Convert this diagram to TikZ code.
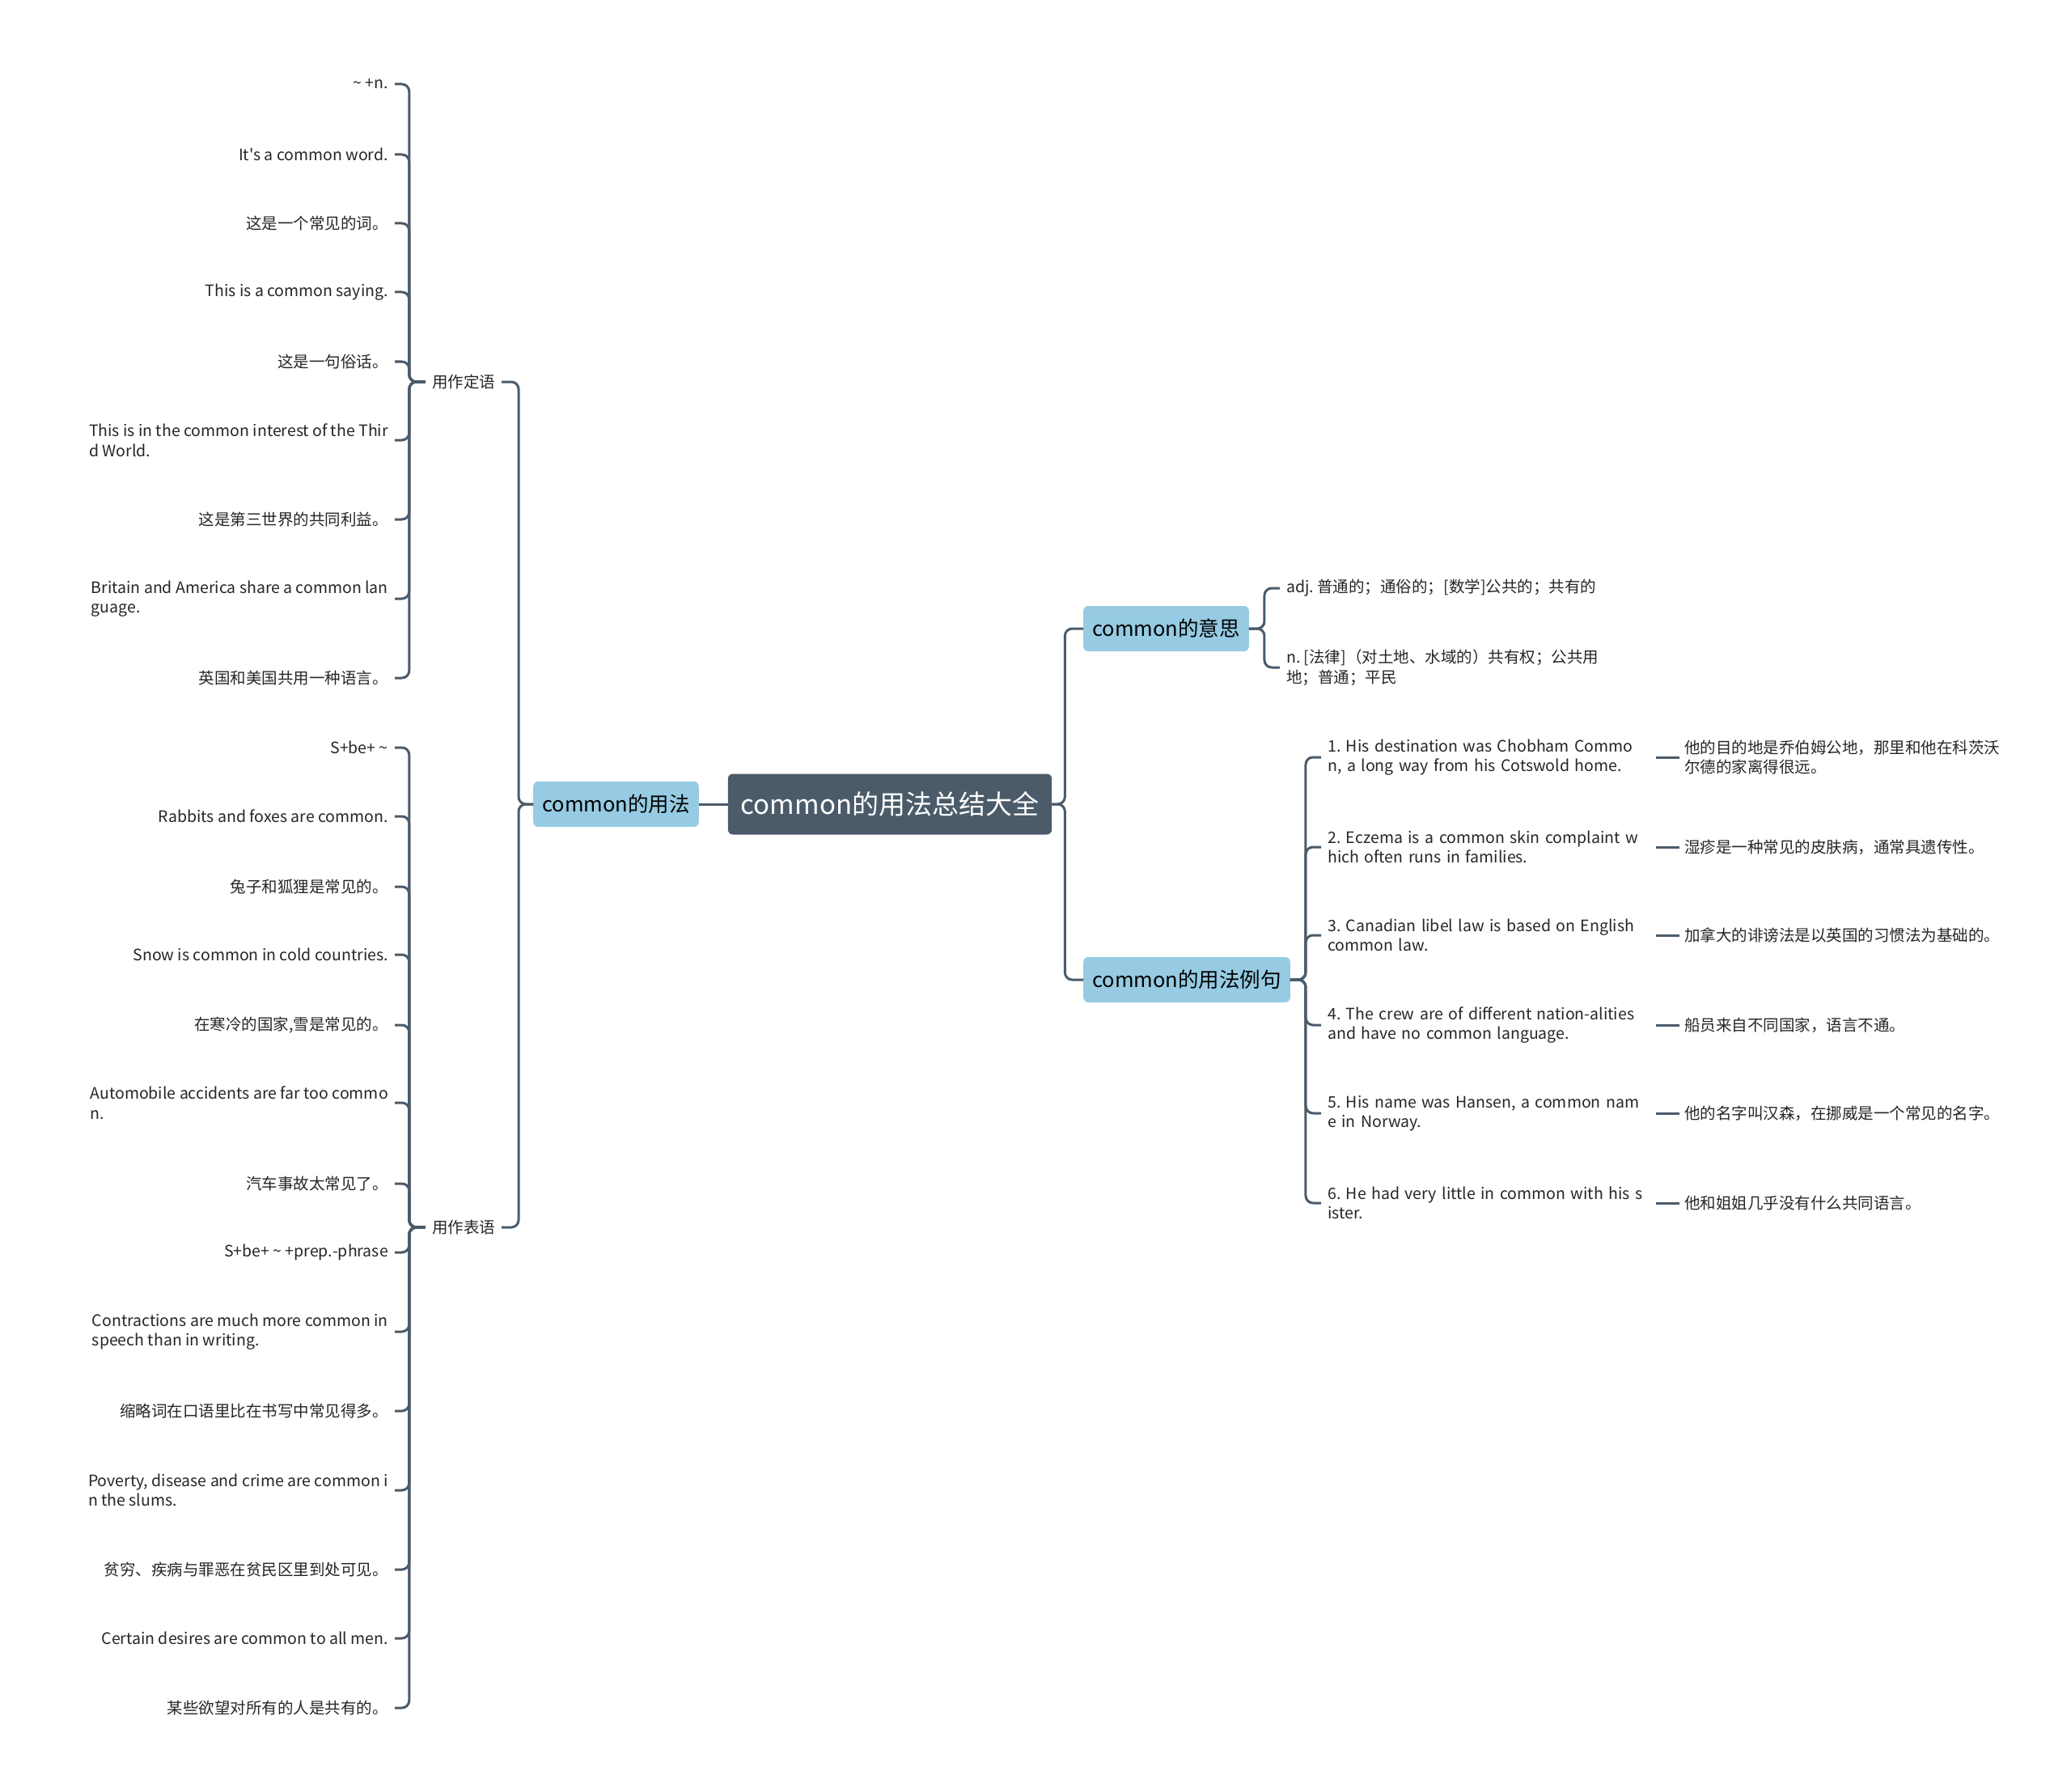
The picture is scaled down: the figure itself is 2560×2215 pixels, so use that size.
\documentclass[tikz,border=0pt]{standalone}
\usepackage{fontspec}
\setmainfont{Noto Sans CJK SC}[Ligatures=TeXOff]
\definecolor{slate}{HTML}{4B5B6A}
\definecolor{skyblue}{HTML}{96CBE3}
\definecolor{inkgray}{HTML}{262626}
\frenchspacing

\begin{document}
\begin{tikzpicture}[x=1pt,y=-1pt,
	root/.style={fill=slate, text=white, rounded corners=6pt, minimum height=75pt, inner xsep=16pt, font=\fontsize{33}{40}\selectfont},
	topic/.style={fill=skyblue, text=black, rounded corners=6pt, minimum height=56pt, inner xsep=11pt, font=\fontsize{25.5}{30}\selectfont},
	sub/.style={text=inkgray, inner xsep=8pt, inner ysep=3pt, font=\fontsize{19.5}{24.5}\selectfont},
	leafl/.style={sub, anchor=east, align=left},
	leafr/.style={sub, anchor=west, align=left},
	example/.style={leafr, text width=398pt},
	conn/.style={draw=slate, line width=3pt, rounded corners=9pt}]
			\path[use as bounding box, fill=white] (0,0) rectangle (2560,2215);
			% centre and main topics
			\node[root] (root) at (1100,994) {common的用法总结大全};
			\node[topic, anchor=east] (yongfa) at (864,994) {common的用法};
			\node[topic, anchor=west] (yisi) at (1339,777) {common的意思};
			\node[topic, anchor=west] (liju) at (1339,1211) {common的用法例句};
			\node[sub] (dingyu) at (573,472) {用作定语};
			\node[sub] (biaoyu) at (573,1517) {用作表语};
			% used as attribute
			\node[leafl] (dy1) at (488,104) {\textasciitilde{} +n.};
			\node[leafl] (dy2) at (488,191) {It's a common word.};
			\node[leafl] (dy3) at (488,276) {这是一个常见的词。};
			\node[leafl] (dy4) at (488,361) {This is a common saying.};
			\node[leafl] (dy5) at (488,447) {这是一句俗话。};
			\node[leafl] (dy6) at (488,544) {This is in the common interest of the Thir\\d World.};
			\node[leafl] (dy7) at (488,642) {这是第三世界的共同利益。};
			\node[leafl] (dy8) at (488,740) {Britain and America share a common lan\\guage.};
			\node[leafl] (dy9) at (488,838) {英国和美国共用一种语言。};
			% used as predicative
			\node[leafl] (by1) at (488,924) {S+be+ \textasciitilde};
			\node[leafl] (by2) at (488,1009) {Rabbits and foxes are common.};
			\node[leafl] (by3) at (488,1096) {兔子和狐狸是常见的。};
			\node[leafl] (by4) at (488,1180) {Snow is common in cold countries.};
			\node[leafl] (by5) at (488,1267) {在寒冷的国家,雪是常见的。};
			\node[leafl] (by6) at (488,1363) {Automobile accidents are far too commo\\n.};
			\node[leafl] (by7) at (488,1463) {汽车事故太常见了。};
			\node[leafl] (by8) at (488,1548) {S+be+ \textasciitilde{} +prep.-phrase};
			\node[leafl] (by9) at (488,1646) {Contractions are much more common in\\speech than in writing.};
			\node[leafl] (by10) at (488,1744) {缩略词在口语里比在书写中常见得多。};
			\node[leafl] (by11) at (488,1842) {Poverty, disease and crime are common i\\n the slums.};
			\node[leafl] (by12) at (488,1940) {贫穷、疾病与罪恶在贫民区里到处可见。};
			\node[leafl] (by13) at (488,2025) {Certain desires are common to all men.};
			\node[leafl] (by14) at (488,2111) {某些欲望对所有的人是共有的。};
			% meanings
			\node[leafr] (ys1) at (1582,727) {adj. 普通的；通俗的；[数学]公共的；共有的};
			\node[leafr] (ys2) at (1582,825) {n. [法律]（对土地、水域的）共有权；公共用\\地；普通；平民};
			% examples and translations
			\node[example] (lj1) at (1633,936) {1. His destination was Chobham Commo\\n, a long way from his Cotswold home.};
			\node[example] (lj2) at (1633,1047) {2. Eczema is a common skin complaint w\\hich often runs in families.};
			\node[example] (lj3) at (1633,1156) {3. Canadian libel law is based on English\\common law.};
			\node[example] (lj4) at (1633,1267) {4. The crew are of different nation-alities\\and have no common language.};
			\node[example] (lj5) at (1633,1376) {5. His name was Hansen, a common nam\\e in Norway.};
			\node[example] (lj6) at (1633,1487) {6. He had very little in common with his s\\ister.};
			\node[leafr, inner xsep=6pt] (yw1) at (2076,936) {他的目的地是乔伯姆公地，那里和他在科茨沃\\尔德的家离得很远。};
			\node[leafr, inner xsep=6pt] (yw2) at (2076,1047) {湿疹是一种常见的皮肤病，通常具遗传性。};
			\node[leafr, inner xsep=6pt] (yw3) at (2076,1156) {加拿大的诽谤法是以英国的习惯法为基础的。};
			\node[leafr, inner xsep=6pt] (yw4) at (2076,1267) {船员来自不同国家，语言不通。};
			\node[leafr, inner xsep=6pt] (yw5) at (2076,1376) {他的名字叫汉森，在挪威是一个常见的名字。};
			\node[leafr, inner xsep=6pt] (yw6) at (2076,1487) {他和姐姐几乎没有什么共同语言。};
			% connectors
			\draw[conn] (root.west) -- (yongfa.east);
			\draw[conn] (root.east) -- ++(16,0) |- (yisi.west);
			\draw[conn] (root.east) -- ++(16,0) |- (liju.west);
			\draw[conn] (yongfa.west) -- ++(-18,0) |- (dingyu.east);
			\draw[conn] (yongfa.west) -- ++(-18,0) |- (biaoyu.east);
			\foreach \i in {1,...,9}
				\draw[conn] (dingyu.west) -- ++(-20,0) |- (dy\i.east);
			\foreach \i in {1,...,14}
				\draw[conn] (biaoyu.west) -- ++(-20,0) |- (by\i.east);
			\foreach \i in {1,2}
				\draw[conn] (yisi.east) -- ++(19,0) |- (ys\i.west);
			\foreach \i in {1,...,6} {
				\draw[conn] (liju.east) -- ++(19,0) |- (lj\i.west);
				\draw[conn] (lj\i.east) -- (yw\i.west);
			}
\end{tikzpicture}
\end{document}
